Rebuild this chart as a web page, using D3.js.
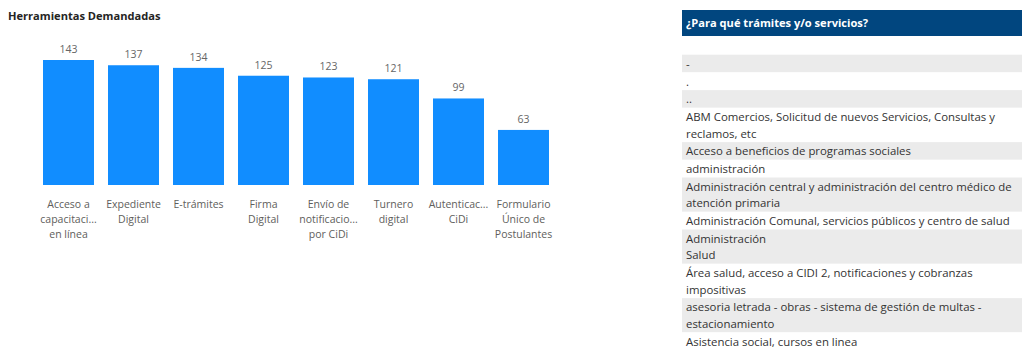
<!DOCTYPE html>
<html><head><meta charset="utf-8">
<script src="https://cdn.jsdelivr.net/npm/d3@7/dist/d3.min.js"></script>
<style>
html,body{margin:0;padding:0;background:#fff;}
svg{display:block;}
</style></head>
<body>
<script>
// ---- data ----
const title = "Herramientas Demandadas";
const categories = ["Acceso a capacitación en línea","Expediente Digital","E-trámites","Firma Digital","Envío de notificaciones por CiDi","Turnero digital","Autenticación CiDi","Formulario Único de Postulantes"];
const values = [143,137,134,125,123,121,99,63];
const tickLabels = [["Acceso a","capacitaci...","en línea"],["Expediente","Digital"],["E-trámites"],["Firma","Digital"],["Envío de","notificacio...","por CiDi"],["Turnero","digital"],["Autenticac...","CiDi"],["Formulario","Único de","Postulantes"]];
const tableHeader = "¿Para qué trámites y/o servicios?";
const tableRows = ["","-",".","..","ABM Comercios, Solicitud de nuevos Servicios, Consultas y\nreclamos, etc","Acceso a beneficios de programas sociales","administración","Administración central y administración del centro médico de\natención primaria","Administración Comunal, servicios públicos y centro de salud","Administración\nSalud","Área salud, acceso a CIDI 2, notificaciones y cobranzas\nimpositivas","asesoria letrada - obras - sistema de gestión de multas -\nestacionamiento","Asistencia social, cursos en linea"];

const W = 1023, H = 352;
const FONT = "'Open Sans', 'Noto Sans', sans-serif";
const svg = d3.select("body").append("svg").attr("width", W).attr("height", H)
  .style("font-family", FONT);

// ---- title ----
svg.append("text").attr("x", 8).attr("y", 20).text(title)
  .attr("font-size", 11.1).attr("font-weight", 700).attr("fill", "#252423");

// ---- bar chart ----
const x = d3.scaleBand().domain(categories).range([36, 556]).paddingInner(14/65).paddingOuter(7/65);
const y = d3.scaleLinear().domain([0, d3.max(values)]).range([185, 60]);
const data = categories.map((c,i)=>({c, v: values[i], lines: tickLabels[i]}));

svg.append("g").selectAll("rect").data(data).join("rect")
  .attr("x", d=>x(d.c)).attr("y", d=>y(d.v))
  .attr("width", x.bandwidth()).attr("height", d=>y(0)-y(d.v))
  .attr("fill", "#118DFF");

svg.append("g").selectAll("text").data(data).join("text")
  .attr("x", d=>x(d.c)+x.bandwidth()/2).attr("y", d=>y(d.v)-7)
  .attr("text-anchor","middle").attr("font-size", 10.5).attr("fill","#666666")
  .text(d=>d.v);

const xAxis = d3.axisBottom(x).tickSize(0).tickPadding(0).tickFormat(()=>"");
const ax = svg.append("g").attr("transform", `translate(0,${y(0)})`).call(xAxis);
ax.select(".domain").remove();
ax.selectAll(".tick").each(function(cat){
  const d = data.find(e=>e.c===cat);
  const t = d3.select(this).select("text").attr("y", 0).attr("dy", null)
    .attr("font-size", 10.5).attr("fill", "#605E5C").attr("font-family", FONT);
  t.text(null);
  d.lines.forEach((l,i)=>{
    t.append("tspan").attr("x", 0).attr("y", 23 + i*15).text(l);
  });
});

// ---- table ----
const tx = 682, tw = 340, lineH = 16.6, pad = 1.1;
svg.append("rect").attr("x", tx).attr("y", 10).attr("width", tw).attr("height", 26).attr("fill", "#01467F");
svg.append("text").attr("x", tx+4).attr("y", 27).text(tableHeader)
  .attr("font-size", 11.1).attr("font-weight", 700).attr("fill", "#ffffff");

let yy = 37;
const rows = tableRows.map((r,i)=>{
  const lines = r.split("\n");
  const h = lines.length*lineH + pad;
  const o = {lines, y: yy, h, i};
  yy += h;
  return o;
});
const rg = svg.append("g").selectAll("g").data(rows).join("g")
  .attr("transform", d=>`translate(${tx},${d.y})`);
rg.append("rect").attr("width", tw).attr("height", d=>d.h)
  .attr("fill", d=>d.i%2 ? "#EBEBEB" : "#ffffff");
rg.append("text").attr("font-size", 11.4).attr("fill", "#333333")
  .each(function(d){
    d3.select(this).selectAll("tspan").data(d.lines).join("tspan")
      .attr("x", 4).attr("y", (l,i)=>13.2 + i*lineH).text(l=>l);
  });
</script>
</body></html>
